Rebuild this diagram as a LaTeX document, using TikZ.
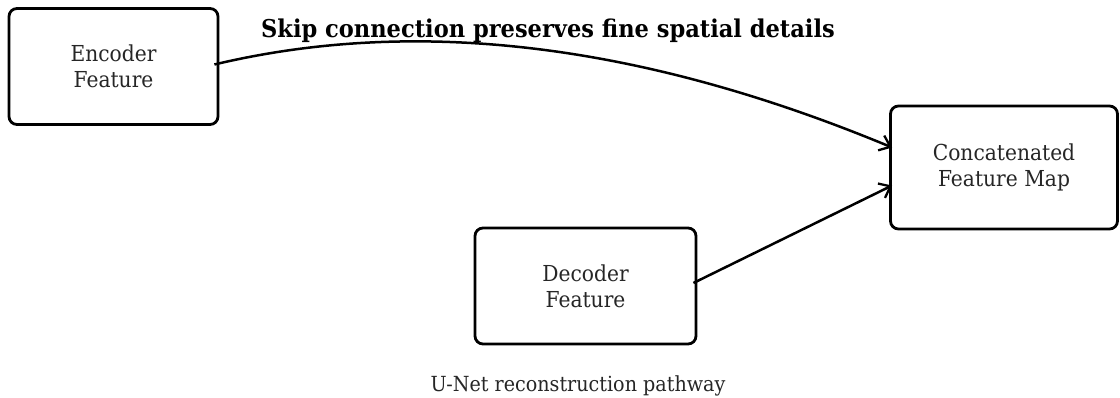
\documentclass[tikz,border=0pt]{standalone}
\usepackage{fontspec}
\setmainfont{DejaVu Serif}[FakeStretch=0.92]
\usetikzlibrary{arrows.meta}
\begin{document}
\begin{tikzpicture}[x=1pt,y=-1pt,
  box/.style={draw=black, line width=2.8pt, rounded corners=8pt, fill=white,
    align=center, inner sep=0pt, font=\fontsize{22}{26}\selectfont, text=black!85},
  conn/.style={line width=2.5pt, -{Straight Barb[length=10pt,width=16pt,line width=2.3pt]}}]
\useasboundingbox (0,0) rectangle (1120,398);
\node[box, minimum width=209pt, minimum height=116pt] (enc) at (113.5,66.5) {Encoder\\Feature};
\node[box, minimum width=227pt, minimum height=123pt] (conc) at (1004,167.5) {Concatenated\\Feature Map};
\node[box, minimum width=221pt, minimum height=116pt] (dec) at (585.5,286) {Decoder\\Feature};
\node[font=\fontsize{24.5}{29}\selectfont\bfseries, anchor=base] (title) at (548,38) {Skip connection preserves fine spatial details};
\node[font=\fontsize{20.8}{25}\selectfont, text=black!85, anchor=base] (cap) at (578,391) {U-Net reconstruction pathway};
\coordinate (s1) at ([xshift=-5pt,yshift=2pt]enc.east);
\coordinate (e1) at ([xshift=3pt,yshift=20pt]conc.west);
\coordinate (s2) at ([xshift=-4pt,yshift=3pt]dec.east);
\coordinate (e2) at ([xshift=3pt,yshift=-18pt]conc.west);
\draw[conn] (s1) .. controls (418,16) and (643,44) .. (e1);
\draw[conn] (s2) -- (e2);
\end{tikzpicture}
\end{document}
